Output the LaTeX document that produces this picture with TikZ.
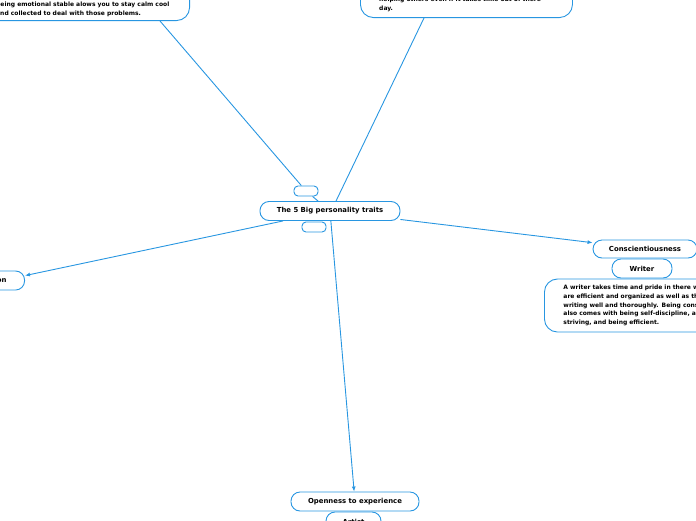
\documentclass[tikz,border=0pt]{standalone}
\usepackage{fontspec}
\setmainfont{DejaVu Sans}
\usetikzlibrary{arrows.meta,calc}
\definecolor{mapblue}{RGB}{40,150,225}
\tikzset{
  topic/.style={draw=mapblue, line width=0.9pt, rounded corners=9pt, inner sep=0pt,
    font=\fontsize{6.9}{8.6}\selectfont\bfseries},
  bigtopic/.style={topic, rounded corners=13pt, font=\fontsize{6}{8.6}\selectfont\bfseries},
  blank/.style={draw=mapblue, line width=0.9pt, rounded corners=4pt,
    minimum width=24pt, minimum height=10pt, inner sep=0pt},
  note/.style={font=\fontsize{6}{8.8}\selectfont\bfseries, align=left, inner sep=0pt},
  link/.style={draw=mapblue, line width=0.9pt},
  branch/.style={link, -{Latex[length=5pt,width=4pt]}},
}
\begin{document}
\begin{tikzpicture}[x=1pt,y=-1pt]
  \useasboundingbox (0,0) rectangle (696,520);
  \clip (0,0) rectangle (696,520);
  % centre
  \node[topic, minimum width=140pt, minimum height=19pt] (main) at (330,211) {The 5 Big personality traits};
  \node[blank] (nbup) at (306,191) {};
  \node[blank] (nbdown) at (314,227) {};
  % top left
  \node[bigtopic, minimum width=300pt, minimum height=60pt, anchor=south east] (neuro) at (190,21) {};
  \node[note, anchor=west] (neurotext) at (-4,9.5)
    {being emotional stable alows you to stay calm cool\\and collected to deal with those problems.};
  % top right
  \node[bigtopic, minimum width=212pt, minimum height=50pt, anchor=south west] (agree) at (360,18) {};
  \node[note, anchor=west] (agreetext) at (379,4.5)
    {helping others even if it takes time out of there\\day.};
  % left
  \node[topic, inner xsep=18pt, minimum height=19pt, anchor=east] (extra) at (25,280.5) {on};
  % right
  \node[topic, minimum width=104pt, minimum height=18pt] (consc) at (645,249) {Conscientiousness};
  \node[topic, minimum width=60pt, minimum height=19pt] (writer) at (642,268.5) {Writer};
  \node[bigtopic, text width=180pt, align=left, inner xsep=19pt, minimum height=53pt, anchor=west] (writernote) at (544,305.5)
    {A writer takes time and pride in there w\\are efficient and organized as well as th\\writing well and thoroughly. Being cons\\also comes with being self-discipline, a\\striving, and being efficient.};
  % bottom
  \node[topic, minimum width=128pt, minimum height=19pt] (open) at (355,501.5) {Openness to experience};
  \node[topic, minimum width=55pt, minimum height=19pt] (artist) at (353.5,521.5) {Artist};
  % links
  \draw[link] ($(neuro.south east)+(-30,0)$) -- (nbup);
  \draw[link] (nbup) -- (main);
  \draw[link] ($(agree.south west)+(64,0)$) -- ($(main.north)+(6,0)$);
  \draw[branch] (main) -- (extra);
  \draw[branch] (main) -- (consc);
  \draw[branch] (main) -- (open);
\end{tikzpicture}
\end{document}
